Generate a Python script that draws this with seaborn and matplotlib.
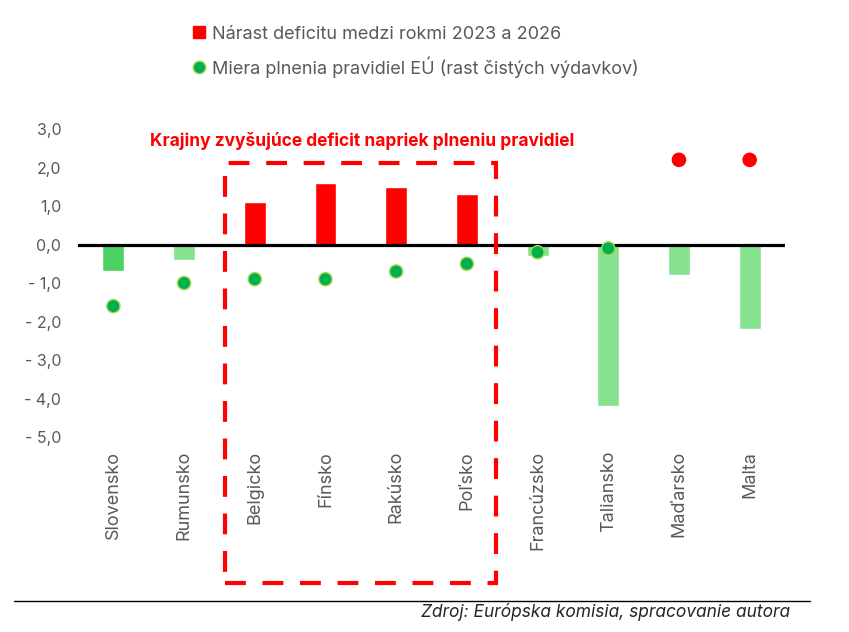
import numpy as np
import pandas as pd
import matplotlib.pyplot as plt
import seaborn as sns
from matplotlib.patches import Rectangle
from matplotlib.lines import Line2D

countries = ['Slovensko', 'Rumunsko', 'Belgicko', 'Fínsko', 'Rakúsko', 'Poľsko',
             'Francúzsko', 'Taliansko', 'Maďarsko', 'Malta']
deficit_change = [-0.7, -0.4, 1.1, 1.6, 1.5, 1.3, -0.3, -4.2, -0.8, -2.2]
rule_compliance = [-1.6, -1.0, -0.9, -0.9, -0.7, -0.5, -0.2, -0.1, 2.2, 2.2]
bar_colors = ['#4CD262', '#86E28F', '#FF0000', '#FF0000', '#FF0000', '#FF0000',
              '#86E28F', '#86E28F', '#86E28F', '#86E28F']
dot_colors = ['#00B050'] * 8 + ['#FF0000'] * 2
dot_edges = ['#A6D84E'] * 8 + ['#FF0000'] * 2
yticks = [3, 2, 1, 0, -1, -2, -3, -4, -5]

df = pd.DataFrame({'krajina': countries, 'deficit': deficit_change, 'pravidla': rule_compliance})

sns.set_style('white')
plt.rcParams['font.family'] = ['Inter', 'DejaVu Sans']
gray = '#595959'

fig = plt.figure(figsize=(8.49, 6.32), dpi=100)
ax = fig.add_axes([0.0919, 0.3085, 0.8327, 0.4873])

sns.barplot(data=df, x='krajina', y='deficit', hue='krajina', palette=bar_colors,
            legend=False, width=0.31, saturation=1, ax=ax)
sns.scatterplot(data=df, x='krajina', y='pravidla', hue='krajina', palette=dot_colors,
                legend=False, s=90, linewidth=1, edgecolor=dot_edges, ax=ax, zorder=5)

ax.axhline(0, color='black', lw=2.3, zorder=4)
ax.set_xlim(-0.5, len(countries) - 0.5)
ax.set_ylim(-5, 3)
ax.set_yticks(yticks)
ax.set_yticklabels([f'{v:.1f}'.replace('.', ',').replace('-', '- ') for v in yticks])
ax.set_xlabel('')
ax.set_ylabel('')
ax.tick_params(axis='y', length=0, pad=12, labelsize=11.5, labelcolor=gray)
ax.tick_params(axis='x', length=0, pad=10, labelsize=13, labelcolor=gray, labelrotation=90)
sns.despine(ax=ax, left=True, bottom=True)

# dashed box around countries raising deficit
box = Rectangle((1.58, -8.78), 3.83, 10.91, fill=False, edgecolor='#FF0000', lw=3,
                linestyle=(0, (5, 4)), clip_on=False, zorder=6)
ax.add_patch(box)
ax.text(3.52, 2.7, 'Krajiny zvyšujúce deficit napriek plneniu pravidiel', color='#FF0000',
        fontsize=12.5, fontweight='bold', ha='center', va='center')

handles = [
    Line2D([], [], marker='s', color='#FF0000', linestyle='none', markersize=9),
    Line2D([], [], marker='o', color='#00B050', markeredgecolor='#A6D84E', linestyle='none', markersize=9),
]
labels = ['Nárast deficitu medzi rokmi 2023 a 2026',
          'Miera plnenia pravidiel EÚ (rast čistých výdavkov)']
fig.legend(handles, labels, loc='upper left', bbox_to_anchor=(0.205, 0.985), frameon=False,
           fontsize=13, labelcolor=gray, handletextpad=0.2, handlelength=1, labelspacing=0.75)

fig.add_artist(Line2D([14 / 849, 810 / 849], [1 - 601 / 632] * 2, color='black', lw=1))
fig.text(790 / 849, 1 - 612 / 632, 'Zdroj: Európska komisia, spracovanie autora',
         ha='right', va='center', fontsize=12.5, style='italic', fontstretch='condensed')

fig.savefig('out.png', dpi=100)
